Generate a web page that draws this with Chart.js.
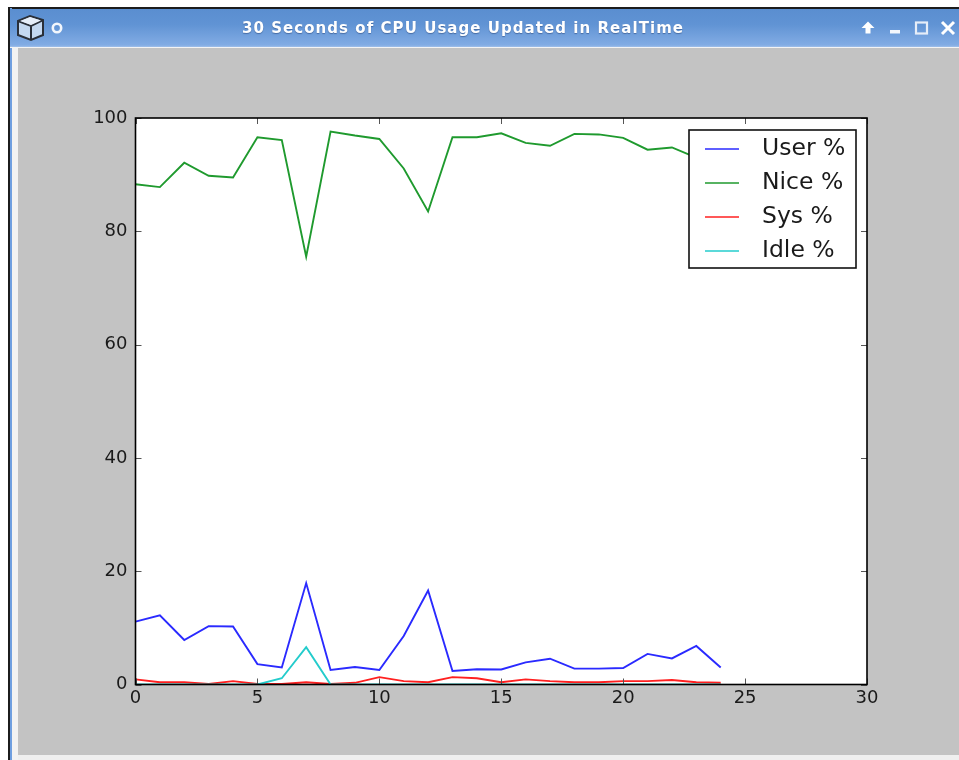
<!DOCTYPE html>
<html><head><meta charset="utf-8">
<script src="https://cdn.jsdelivr.net/npm/chart.js@4"></script>
<style>
html,body{margin:0;padding:0;background:#fff;width:959px;height:760px;overflow:hidden}
div,svg,canvas{position:absolute}
#frameTop{left:8px;top:7px;width:951px;height:1.5px;background:#1c1c1c}
#frameLeft{left:8px;top:7px;width:1.5px;height:753px;background:#1c1c1c}
#leftBlue{left:9.5px;top:8px;width:2px;height:752px;background:#6f9fe0}
#leftPale{left:11.5px;top:47px;width:6.5px;height:713px;background:#f2f2f2}
#bar{left:9.5px;top:8.5px;width:950px;height:38px;background:linear-gradient(#5a8ed0 0%,#6093d4 40%,#82ace4 95%,#a0c0ea 100%)}
#barLine{left:9.5px;top:46.5px;width:950px;height:1.5px;background:#f4f4f4}
#title{left:0;top:18.5px;width:926px;text-align:center;font:bold 15px "DejaVu Sans";letter-spacing:1.05px;color:#fff;text-shadow:0 1px 1px rgba(40,70,120,.55);white-space:nowrap;filter:blur(.35px)}
#bottom{left:18px;top:755px;width:941px;height:5px;background:#efefef}
#plot{left:18px;top:48px;background:#c3c3c3;filter:blur(.4px)}
</style></head><body>
<div id="frameTop"></div><div id="leftBlue"></div><div id="frameLeft"></div><div id="leftPale"></div>
<div id="bar"></div><div id="barLine"></div>
<div id="title">30 Seconds of CPU Usage Updated in RealTime</div>
<svg style="left:0;top:0;filter:blur(.4px)" width="959" height="48" fill="none">
<path d="M18 21 L30 16 L43 20 L43 35 L31 40 L18 35 Z" fill="#c4d8f0" stroke="#2a2f38" stroke-width="2"/>
<path d="M18 21 L31 26 L43 20 M31 26 V40" stroke="#2a2f38" stroke-width="2"/>
<path d="M20 21 L30 17 L41 20.5 L31 25 Z" fill="#e6eef9"/>
<circle cx="57" cy="28" r="4.2" stroke="#f2f6fc" stroke-width="2.6"/>
<path d="M868 21.5 L861.5 28 H865.5 V33.5 H870.5 V28 H874.5 Z" fill="#fff"/>
<rect x="890" y="30" width="10" height="3.5" fill="#f2f6fc"/>
<rect x="916" y="22.5" width="11" height="11" stroke="#e6edf8" stroke-width="2.2"/>
<path d="M942 22 L954 34 M954 22 L942 34" stroke="#fff" stroke-width="3"/>
</svg>
<div id="bottom"></div>
<canvas id="plot" width="941" height="707"></canvas>
<script>
const seconds = [0,1,2,3,4,5,6,7,8,9,10,11,12,13,14,15,16,17,18,19,20,21,22,23,24];
const userPct = [11.1,12.2,7.85,10.3,10.25,3.6,3.0,17.9,2.55,3.1,2.55,8.55,16.6,2.4,2.7,2.65,3.9,4.55,2.8,2.8,2.9,5.4,4.6,6.8,3.0];
const nicePct = [88.3,87.8,92.1,89.8,89.5,96.6,96.1,75.5,97.6,96.9,96.3,91.1,83.5,96.6,96.6,97.3,95.6,95.1,97.2,97.1,96.5,94.4,94.8,93.0,96.7];
const sysPct  = [0.9,0.4,0.4,0.1,0.6,0.1,0.1,0.4,0.1,0.3,1.3,0.6,0.4,1.3,1.1,0.4,0.9,0.6,0.4,0.4,0.6,0.6,0.8,0.4,0.3];
const idlePct = [0,0,0,0,0,0,1.1,6.6,0,0,0,0,0,0,0,0,0,0,0,0,0,0,0,0,0];
const xTicks = [0,5,10,15,20,25,30];
const yTicks = [0,20,40,60,80,100];
const seriesNames = ["User %","Nice %","Sys %","Idle %"];
const seriesColors = ["#2a2aff","#1f9a2e","#ff2020","#24cccc"];
const seriesValues = [userPct,nicePct,sysPct,idlePct];

const fontFamily = '"DejaVu Sans"';
const inkColor = "#1a1a1a";

const frameAndTicks = {
  id:"frameAndTicks",
  beforeDatasetsDraw(chart){
    const {ctx,chartArea:a} = chart;
    ctx.save(); ctx.fillStyle="#fff";
    ctx.fillRect(a.left,a.top,a.right-a.left,a.bottom-a.top);
    ctx.restore();
  },
  afterDatasetsDraw(chart){
    const {ctx,chartArea:a,scales:{x,y}} = chart;
    ctx.save();
    ctx.strokeStyle="#555"; ctx.lineWidth=1;
    const len=6; ctx.beginPath();
    xTicks.forEach(v=>{const p=Math.round(x.getPixelForValue(v))+.5;
      ctx.moveTo(p,a.bottom);ctx.lineTo(p,a.bottom-len);ctx.moveTo(p,a.top);ctx.lineTo(p,a.top+len);});
    yTicks.forEach(v=>{const p=Math.round(y.getPixelForValue(v))+.5;
      ctx.moveTo(a.left,p);ctx.lineTo(a.left+len,p);ctx.moveTo(a.right,p);ctx.lineTo(a.right-len,p);});
    ctx.stroke();
    ctx.strokeStyle="#000"; ctx.lineWidth=1.6;
    ctx.strokeRect(a.left,a.top,a.right-a.left,a.bottom-a.top);
    // legend box, anchored to the upper right of the axes
    const bw=167,bh=138,bx=a.right-11-bw,by=a.top+12;
    ctx.fillStyle="#fff"; ctx.fillRect(bx,by,bw,bh);
    ctx.strokeStyle="#111"; ctx.lineWidth=1.6; ctx.strokeRect(bx,by,bw,bh);
    ctx.font='23.5px '+fontFamily; ctx.textBaseline="middle"; ctx.textAlign="left";
    chart.data.datasets.forEach((d,i)=>{
      const ly=by+19+i*34;
      ctx.strokeStyle=d.borderColor; ctx.lineWidth=1.7;
      ctx.beginPath();ctx.moveTo(bx+16,ly);ctx.lineTo(bx+50,ly);ctx.stroke();
      ctx.fillStyle=inkColor; ctx.fillText(d.label,bx+73,ly-.5);
    });
    ctx.restore();
  }
};

new Chart(document.getElementById("plot"),{
  type:"line",
  data:{datasets:seriesNames.map((n,i)=>({
    label:n,
    data:seconds.map((s,j)=>({x:s,y:seriesValues[i][j]})),
    borderColor:seriesColors[i],
    borderWidth:1.9,
    pointRadius:0,
    tension:0,
    fill:false,
    clip:0,
    order:4-i
  }))},
  options:{
    responsive:false,animation:false,
    layout:{padding:{left:0,top:70,right:92,bottom:0}},
    plugins:{legend:{display:false},title:{display:false},tooltip:{enabled:false}},
    scales:{
      x:{type:"linear",min:0,max:30,
        afterFit(s){s.height=70.5;},
        afterBuildTicks(s){s.ticks=xTicks.map(v=>({value:v}));},
        grid:{display:false},border:{display:false},
        ticks:{color:inkColor,padding:-5,maxRotation:0,autoSkip:false,font:{family:"DejaVu Sans",size:18}}},
      y:{type:"linear",min:0,max:100,
        afterFit(s){s.width=117.5;},
        afterBuildTicks(s){s.ticks=yTicks.map(v=>({value:v}));},
        grid:{display:false},border:{display:false},
        ticks:{color:inkColor,padding:0,autoSkip:false,font:{family:"DejaVu Sans",size:18}}}
    }
  },
  plugins:[frameAndTicks]
});
</script>
</body></html>
